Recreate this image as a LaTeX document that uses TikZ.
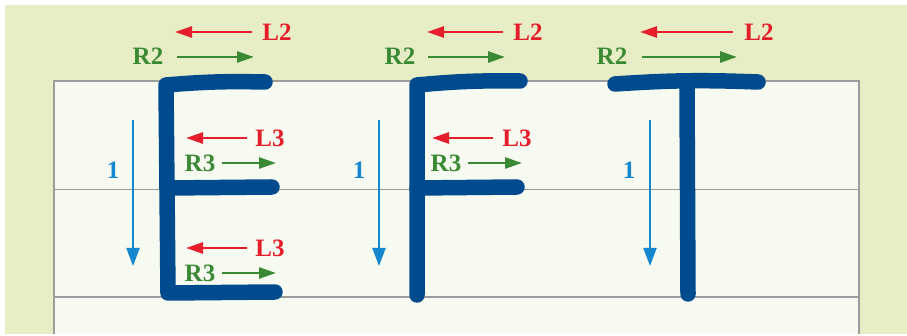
\documentclass[tikz,border=0pt]{standalone}
\usepackage{fontspec}
\setmainfont{Liberation Serif}
\usetikzlibrary{arrows.meta}
\definecolor{bgg}{HTML}{E7EDC4}
\definecolor{paper}{HTML}{F7FAF0}
\definecolor{rule}{HTML}{9C9C9C}
\definecolor{ink}{HTML}{004B8D}
\definecolor{rd}{HTML}{E61E2B}
\definecolor{gr}{HTML}{3A8A35}
\definecolor{bl}{HTML}{1487CF}

\tikzset{
	lab/.style={inner sep=0pt, font=\fontsize{25}{30}\selectfont\bfseries},
	redtxt/.style={lab, text=rd},
	greentxt/.style={lab, text=gr},
	bluetxt/.style={lab, text=bl},
	redarr/.style={rd, line width=2.6pt, -{Triangle[length=17pt,width=11pt]}},
	greenarr/.style={gr, line width=2.6pt, -{Triangle[length=17pt,width=11pt]}},
	bluearr/.style={bl, line width=2pt, -{Triangle[length=18pt,width=13pt]}},
	stroke/.style={ink, line width=15.5pt, line cap=round, line join=round}
}

\begin{document}
\begin{tikzpicture}[x=1pt,y=-1pt]
	\useasboundingbox (0,0) rectangle (907,336);
	\fill[white] (0,0) rectangle (907,336);
	\fill[bgg] (5,5) rectangle (907,334);

	% lined paper
	\fill[paper] (54,81) rectangle (859,334);
	\draw[rule, line width=1.6pt] (54,334) -- (54,81) -- (859,81) -- (859,334);
	\draw[rule, line width=0.8pt] (54,189) -- (859,189);
	\draw[rule, line width=2pt] (54,297) -- (859,297);

	% letters
	\draw[stroke] (265,82) to[bend right=3] (166,85) -- (168,293) -- (275,292);
	\draw[stroke] (168,188) -- (272,187);

	\draw[stroke] (520,81) to[bend right=3] (417,85) -- (417,295);
	\draw[stroke] (417,188) -- (517,187);

	\draw[stroke] (615,84) to[bend left=3] (758,82);
	\draw[stroke] (687,88) -- (688,294);

	% stroke 1
	\foreach \x/\n/\t in {133/e/113, 379/f/359, 650/t/629} {
		\node[bluetxt] (\n one) at (\t,170) {1};
		\coordinate (\n top) at (\x,120);
		\coordinate (\n bot) at (\x,266);
		\draw[bluearr] (\n top) -- (\n bot);
	}

	% E
	\node[redtxt] (eLtwo) at (277,32) {L2};
	\node[greentxt] (eRtwo) at (148,56) {R2};
	\coordinate (eLa) at (252,32); \coordinate (eLb) at (175,32);
	\coordinate (eRa) at (177,57); \coordinate (eRb) at (254,57);
	\draw[redarr] (eLa) -- (eLb);
	\draw[greenarr] (eRa) -- (eRb);

	\foreach \y/\k in {0/a, 110/b} {
		\node[redtxt] (eLthree\k) at (270,138+\y) {L3};
		\node[greentxt] (eRthree\k) at (200,163+\y) {R3};
		\coordinate (eL\k s) at (247,138+\y); \coordinate (eL\k e) at (186,138+\y);
		\coordinate (eR\k s) at (222,163+\y); \coordinate (eR\k e) at (276,163+\y);
		\draw[redarr] (eL\k s) -- (eL\k e);
		\draw[greenarr] (eR\k s) -- (eR\k e);
	}

	% F
	\node[redtxt] (fLtwo) at (528,32) {L2};
	\node[greentxt] (fRtwo) at (400,56) {R2};
	\coordinate (fLa) at (503,32); \coordinate (fLb) at (427,32);
	\coordinate (fRa) at (428,57); \coordinate (fRb) at (505,57);
	\draw[redarr] (fLa) -- (fLb);
	\draw[greenarr] (fRa) -- (fRb);

	\node[redtxt] (fLthree) at (517,138) {L3};
	\node[greentxt] (fRthree) at (446,163) {R3};
	\coordinate (fLc) at (493,138); \coordinate (fLd) at (432,138);
	\coordinate (fRc) at (468,163); \coordinate (fRd) at (522,163);
	\draw[redarr] (fLc) -- (fLd);
	\draw[greenarr] (fRc) -- (fRd);

	% T
	\node[redtxt] (tLtwo) at (759,32) {L2};
	\node[greentxt] (tRtwo) at (612,56) {R2};
	\coordinate (tLa) at (733,32); \coordinate (tLb) at (640,32);
	\coordinate (tRa) at (642,57); \coordinate (tRb) at (737,57);
	\draw[redarr] (tLa) -- (tLb);
	\draw[greenarr] (tRa) -- (tRb);
\end{tikzpicture}
\end{document}
